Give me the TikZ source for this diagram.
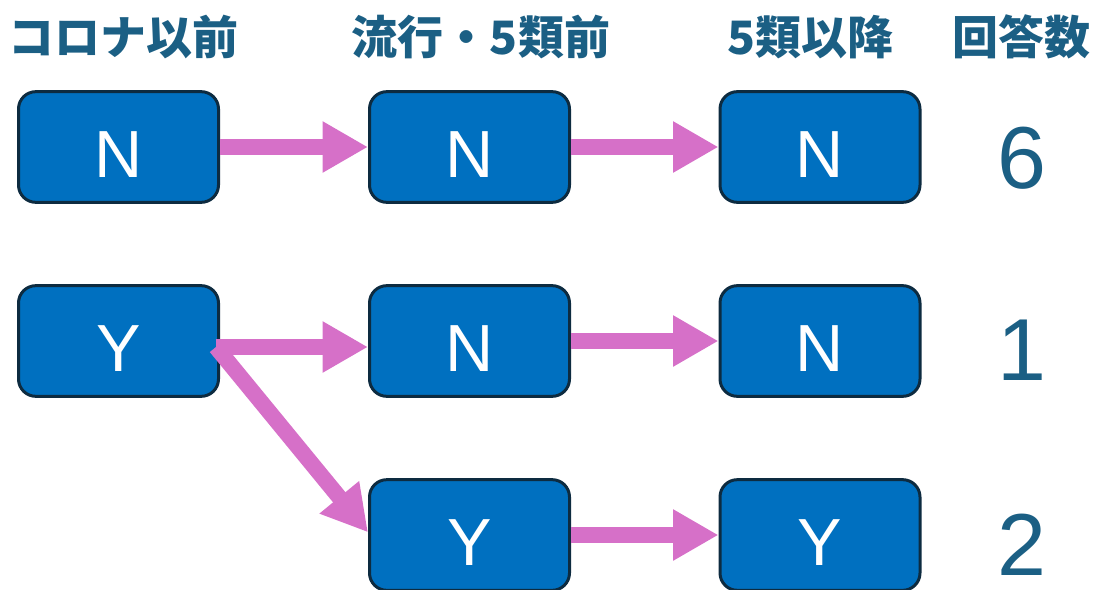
\documentclass[tikz,border=0pt]{standalone}
\usepackage{fontspec}
\setmainfont{Liberation Sans}
\newfontfamily\jpfont{Noto Sans CJK JP}
\usepackage{tikz}
\usetikzlibrary{arrows.meta,positioning}
\definecolor{boxblue}{HTML}{0070C0}
\definecolor{boxline}{HTML}{0D2B40}
\definecolor{arrpink}{HTML}{D670C8}
\definecolor{hdrblue}{HTML}{1B5F84}
\begin{document}
\begin{tikzpicture}[x=0.75pt, y=-0.75pt,
  box/.style={draw=boxline, line width=2.25pt, fill=boxblue, rounded corners=13pt, minimum width=150pt, minimum height=83pt, inner sep=0pt, text=white, font=\fontsize{50}{50}\selectfont, text height=46pt, text depth=0pt},
  hdr/.style={inner sep=0pt, text=hdrblue, font=\jpfont\bfseries\fontsize{34.5}{34.5}\selectfont},
  cnt/.style={inner sep=0pt, text=hdrblue, font=\fontsize{66}{66}\selectfont},
  arr/.style={draw=arrpink, line width=12pt, -{Triangle[length=34pt,width=36pt]}}]
\useasboundingbox (0,0) rectangle (1095,589);
\clip (0,0) rectangle (1095,589);
\foreach \n/\x/\t in {h1/123/コロナ以前, h2/481/流行・5類前, h3/810/5類以降, h4/1021/回答数}{\node[hdr] (\n) at (\x,37) {\t};}
\foreach \n/\x/\y/\t in {11/118.5/147/N, 12/469.5/147/N, 13/820/147/N, 21/118.5/341/Y, 22/469.5/341/N, 23/820/341/N, 32/469.5/535/Y, 33/820/535/Y}{\node[box] (\n) at (\x,\y) {\t};}
\foreach \n/\y/\t in {c1/158/6, c2/350/1, c3/545/2}{\node[cnt] (\n) at (1022,\y) {\t};}
\foreach \a/\b in {11/12, 12/13, 22/23, 32/33}{\draw[arr] (\a) -- (\b);}
% two arrows out of the Y box
\coordinate (s) at ([xshift=-3pt,yshift=-4.5pt]21.east);
\draw[arr] (s) -- (s -| 22.west);
\draw[arr] (s) -- ([yshift=2pt]32.west);
\end{tikzpicture}
\end{document}
